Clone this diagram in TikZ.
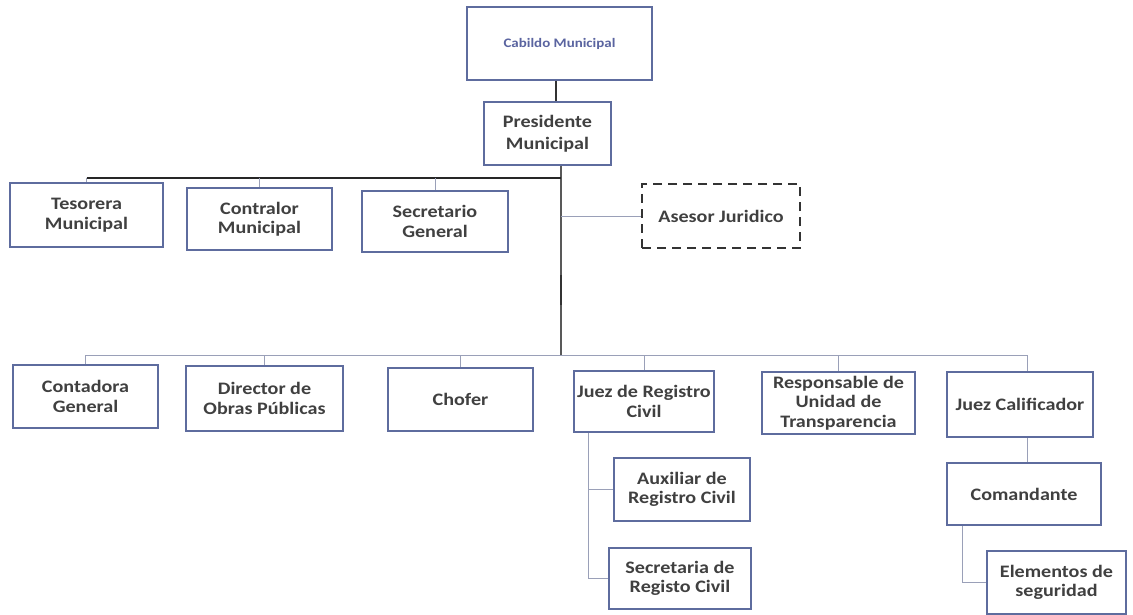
\documentclass[tikz,border=0pt]{standalone}
\usepackage{fontspec}
\setmainfont{Carlito}[FakeStretch=1.15]
\definecolor{bx}{HTML}{5E6C9E}
\definecolor{tx}{HTML}{404040}
\definecolor{ln}{HTML}{9AA0B8}
\definecolor{cab}{HTML}{5A64A0}
\tikzset{
  box/.style={draw=bx, line width=1.8pt, fill=white, text=tx, align=center,
    font=\bfseries\fontsize{17.5}{19.5}\selectfont, inner sep=2pt},
  dbox/.style={box, draw=black!80, dash pattern=on 9pt off 6pt},
  conn/.style={draw=ln, line width=0.9pt},
  bus/.style={draw=black!85, line width=1.6pt},
  spine/.style={draw=black!65, line width=1.2pt},
  thickconn/.style={draw=black!80, line width=2.6pt}
}
\begin{document}
\begin{tikzpicture}[x=1pt,y=-1pt]
\useasboundingbox (0,0) rectangle (1133,615);
% nodes
\node[box, minimum width=185pt, minimum height=73pt, text=cab, font=\bfseries\fontsize{13}{15}\selectfont] (cab) at (559.5,43.5) {Cabildo Municipal};
\node[box, minimum width=127pt, minimum height=63pt, font=\bfseries\fontsize{17.5}{22}\selectfont] (pres) at (547.5,133.5) {Presidente\\Municipal};
\node[box, minimum width=153pt, minimum height=64pt] (teso) at (86.5,215) {Tesorera\\Municipal};
\node[box, minimum width=145pt, minimum height=62pt] (contr) at (259.5,219) {Contralor\\Municipal};
\node[box, minimum width=146pt, minimum height=61pt] (secg) at (435,221.5) {Secretario\\General};
\node[dbox, minimum width=158pt, minimum height=64pt] (ases) at (721,216) {Asesor Juridico};
\node[box, minimum width=145pt, minimum height=63pt] (cont) at (85.5,396.5) {Contadora\\General};
\node[box, minimum width=157pt, minimum height=65pt] (dir) at (264.5,398.5) {Director de\\Obras Públicas};
\node[box, minimum width=145pt, minimum height=63pt] (chof) at (460.5,399.5) {Chofer};
\node[box, minimum width=140pt, minimum height=61pt] (jrc) at (644,401.5) {Juez de Registro\\Civil};
\node[box, minimum width=153pt, minimum height=62pt] (resp) at (838.5,403) {Responsable de\\Unidad de\\Transparencia};
\node[box, minimum width=146pt, minimum height=65pt] (jcal) at (1020,404.5) {Juez Calificador};
\node[box, minimum width=136pt, minimum height=63pt] (aux) at (682,489.5) {Auxiliar de\\Registro Civil};
\node[box, minimum width=142pt, minimum height=61pt] (secr) at (680,578.5) {Secretaria de\\Registo Civil};
\node[box, minimum width=154pt, minimum height=62pt] (coma) at (1024,494) {Comandante};
\node[box, minimum width=139pt, minimum height=63pt] (elem) at (1056.5,582.5) {Elementos de\\seguridad};
% helper coordinates
\coordinate (xa) at (556,0);
\coordinate (sp) at (561,0);
\coordinate (b1) at (0,178);
\coordinate (b2) at (0,355);
\coordinate (xr) at (588,0);
\coordinate (xc) at (1027,0);
\coordinate (xe) at (962,0);
\coordinate (k1) at (561,275);
\coordinate (k2) at (561,305);
% connectors
\draw[thickconn] (cab.south -| xa) -- (pres.north -| xa);
\draw[spine] (pres.south -| sp) -- (sp |- b2);
\draw[thickconn] (k1) -- (k2);
\draw[bus] (teso.north |- b1) -- (sp |- b1);
\draw[conn] (teso.north |- b1) -- (teso.north);
\draw[conn] (contr.north |- b1) -- (contr.north);
\draw[conn] (secg.north |- b1) -- (secg.north);
\draw[conn] (sp |- ases.west) -- (ases.west);
\draw[conn] (cont.north |- b2) -- (xc |- b2);
\draw[conn] (cont.north |- b2) -- (cont.north);
\draw[conn] (dir.north |- b2) -- (dir.north);
\draw[conn] (chof.north |- b2) -- (chof.north);
\draw[conn] (jrc.north |- b2) -- (jrc.north);
\draw[conn] (resp.north |- b2) -- (resp.north);
\draw[conn] (xc |- b2) -- (jcal.north -| xc);
\draw[conn] (jrc.south -| xr) -- (xr |- secr.west) -- (secr.west);
\draw[conn] (xr |- aux.west) -- (aux.west);
\draw[conn] (jcal.south -| xc) -- (coma.north -| xc);
\draw[conn] (coma.south -| xe) -- (xe |- elem.west) -- (elem.west);
\end{tikzpicture}
\end{document}
